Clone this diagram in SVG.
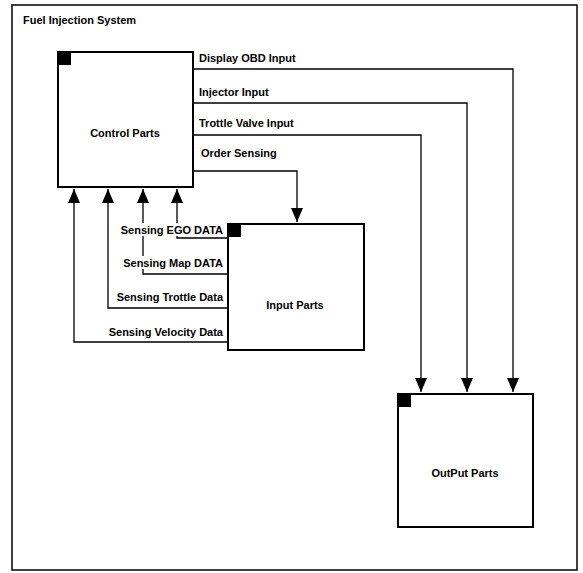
<svg xmlns="http://www.w3.org/2000/svg" width="583" height="573" viewBox="0 0 583 573">
<style>
.frame{fill:#fff;stroke:#000;stroke-width:1.5}
.box{fill:#fff;stroke:#000;stroke-width:2}
.tag{fill:#000}
.lbl{font-family:"Liberation Sans",Arial,sans-serif;font-size:11px;font-weight:bold;fill:#000}
.ctr{text-anchor:middle}
.wire{fill:none;stroke:#000;stroke-width:1.3}
.mask{fill:#fff}
</style>
<defs>
<marker id="arr" viewBox="0 0 14 12" refX="14" refY="6" markerWidth="14" markerHeight="12" markerUnits="userSpaceOnUse" orient="auto">
<path d="M0,0 L14,6 L0,12 Z" fill="#000"/>
</marker>
</defs>
<rect width="583" height="573" fill="#fff"/>
<g id="frame">
<rect class="frame" x="12" y="5" width="565" height="565"/>
<text class="lbl" x="23" y="24">Fuel Injection System</text>
</g>
<g id="connectors">
<path class="wire" d="M193,69 H513 V392" marker-end="url(#arr)"/>
<path class="wire" d="M193,103 H467 V392" marker-end="url(#arr)"/>
<path class="wire" d="M193,135 H421 V392" marker-end="url(#arr)"/>
<path class="wire" d="M193,171 H297 V222" marker-end="url(#arr)"/>
<path class="wire" d="M228,238 H177 V189" marker-end="url(#arr)"/>
<path class="wire" d="M228,274 H143 V189" marker-end="url(#arr)"/>
<path class="wire" d="M228,308 H108 V189" marker-end="url(#arr)"/>
<path class="wire" d="M228,342 H74 V189" marker-end="url(#arr)"/>
<text class="lbl" x="199" y="62">Display OBD Input</text>
<text class="lbl" x="199" y="96">Injector Input</text>
<text class="lbl" x="199" y="127">Trottle Valve Input</text>
<text class="lbl" x="201" y="157">Order Sensing</text>
<rect class="mask" x="112" y="223" width="112" height="13"/>
<text class="lbl" x="223" y="234" text-anchor="end">Sensing EGO DATA</text>
<rect class="mask" x="114" y="256" width="110" height="13"/>
<text class="lbl" x="223" y="267" text-anchor="end">Sensing Map DATA</text>
<text class="lbl" x="223" y="301" text-anchor="end">Sensing Trottle Data</text>
<text class="lbl" x="223" y="336" text-anchor="end">Sensing Velocity Data</text>
</g>
<g id="control-parts">
<rect class="box" x="58" y="52" width="135" height="135"/>
<rect class="tag" x="58" y="52" width="13" height="13"/>
<text class="lbl ctr" x="125" y="137">Control Parts</text>
</g>
<g id="input-parts">
<rect class="box" x="228" y="224" width="136" height="126"/>
<rect class="tag" x="228" y="224" width="13" height="13"/>
<text class="lbl ctr" x="295" y="309">Input Parts</text>
</g>
<g id="output-parts">
<rect class="box" x="398" y="394" width="135" height="133"/>
<rect class="tag" x="398" y="394" width="13" height="13"/>
<text class="lbl ctr" x="465" y="477">OutPut Parts</text>
</g>
</svg>
